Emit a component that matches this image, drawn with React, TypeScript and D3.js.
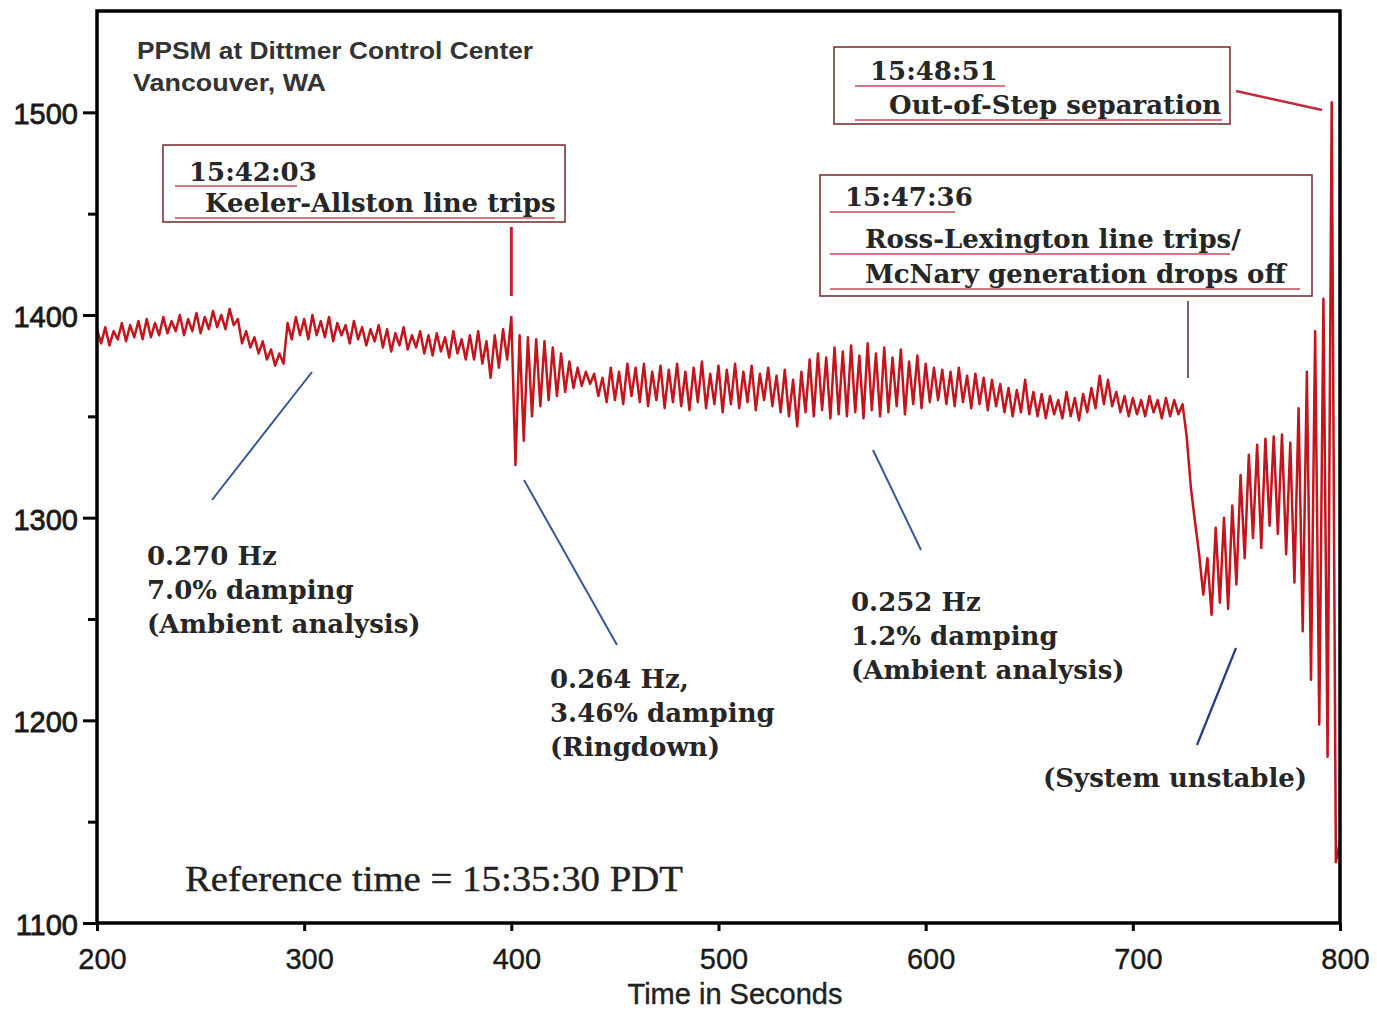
import React, { useEffect, useRef } from 'react';
import * as d3 from 'd3';

// PPSM trace, one reading every 2 s starting at 200 s (peaks / troughs)
const startTime = 200;
const sampleStep = 2;
const readings = [
  1393, 1386, 1394, 1385, 1392, 1388, 1396, 1387, 1395, 1389, // 200
  1397, 1388, 1398, 1389, 1396, 1390, 1399, 1391, 1397, 1392, // 220
  1400, 1390, 1398, 1392, 1401, 1391, 1399, 1393, 1402, 1394, // 240
  1400, 1393, 1403, 1395, 1398, 1386, 1392, 1384, 1389, 1381, // 260
  1387, 1378, 1383, 1375, 1381, 1376, 1396, 1388, 1399, 1390, // 280
  1398, 1388, 1400, 1390, 1397, 1389, 1399, 1387, 1396, 1390, // 300
  1395, 1386, 1397, 1388, 1394, 1385, 1393, 1387, 1395, 1384, // 320
  1393, 1382, 1391, 1385, 1394, 1383, 1390, 1384, 1392, 1381, // 340
  1390, 1380, 1391, 1382, 1389, 1379, 1392, 1381, 1388, 1378, // 360
  1390, 1378, 1392, 1376, 1387, 1369, 1390, 1374, 1393, 1378, // 380
  1399, 1326, 1390, 1338, 1389, 1350, 1388, 1355, 1387, 1358, // 400
  1384, 1360, 1381, 1362, 1377, 1364, 1374, 1365, 1372, 1366, // 420
  1371, 1360, 1369, 1357, 1374, 1358, 1372, 1356, 1376, 1360, // 440
  1374, 1357, 1376, 1355, 1372, 1358, 1375, 1354, 1373, 1357, // 460
  1376, 1355, 1372, 1353, 1374, 1357, 1377, 1354, 1371, 1356, // 480
  1375, 1352, 1373, 1356, 1376, 1354, 1372, 1357, 1375, 1353, // 500
  1371, 1358, 1374, 1355, 1370, 1352, 1373, 1350, 1368, 1345, // 520
  1372, 1352, 1378, 1350, 1381, 1353, 1379, 1349, 1384, 1351, // 540
  1382, 1350, 1385, 1352, 1380, 1349, 1386, 1353, 1381, 1350, // 560
  1384, 1352, 1379, 1355, 1383, 1351, 1377, 1356, 1380, 1354, // 580
  1376, 1357, 1374, 1358, 1373, 1356, 1372, 1355, 1374, 1357, // 600
  1370, 1354, 1371, 1356, 1369, 1353, 1368, 1355, 1366, 1352, // 620
  1364, 1350, 1363, 1352, 1368, 1351, 1362, 1350, 1361, 1349, // 640
  1360, 1351, 1358, 1349, 1362, 1350, 1359, 1348, 1361, 1352, // 660
  1364, 1354, 1370, 1356, 1368, 1355, 1362, 1352, 1360, 1350, // 680
  1359, 1351, 1358, 1350, 1360, 1352, 1358, 1349, 1359, 1350, // 700
  1358, 1351, 1356, 1340, 1315, 1298, 1282, 1262, 1280, 1252, // 720
  1295, 1258, 1300, 1255, 1306, 1267, 1321, 1280, 1331, 1290, // 740
  1336, 1285, 1339, 1296, 1340, 1292, 1341, 1282, 1337, 1268, // 760
  1354, 1244, 1372, 1220, 1392, 1198, 1408, 1182, 1505, 1130, // 780
  1140 // 800
];

const xTicks = [200, 300, 400, 500, 600, 700, 800];
const yTicks = [1100, 1200, 1300, 1400, 1500];
const yMinorTicks = [1150, 1250, 1350, 1450];

const siteLines = ['PPSM at Dittmer Control Center', 'Vancouver, WA'];
const keelerNote = ['15:42:03', 'Keeler-Allston line trips'];
const outOfStepNote = ['15:48:51', 'Out-of-Step separation'];
const rossNote = ['15:47:36', 'Ross-Lexington line trips/', 'McNary generation drops off'];
const ambientNote1 = ['0.270 Hz', '7.0% damping', '(Ambient analysis)'];
const ringdownNote = ['0.264 Hz,', '3.46% damping', '(Ringdown)'];
const ambientNote2 = ['0.252 Hz', '1.2% damping', '(Ambient analysis)'];
const unstableNote = '(System unstable)';
const referenceTime = 'Reference  time = 15:35:30  PDT';
const xTitle = 'Time in  Seconds';

const W = 1377;
const H = 1012;
const plot = { left: 97, right: 1340, top: 11, bottom: 923 };

const x = d3.scaleLinear().domain([200, 800]).range([plot.left, plot.right]);
const y = d3.scaleLinear().domain([1100, 1550]).range([plot.bottom, plot.top]);

const serif = '"DejaVu Serif", "Liberation Serif", serif';
const sans = '"Liberation Sans", Arial, sans-serif';
const boxColor = '#7a3434';
const underline = '#c9485a';
const pointer = '#33589c';

const noteStyle: React.CSSProperties = {
  fontFamily: serif,
  fontSize: 26,
  fontWeight: 'bold',
  fill: '#262626'
};

function Lines({ lines, left, top, gap }: { lines: string[]; left: number; top: number; gap: number }) {
  return (
    <g>
      {lines.map((s, i) => (
        <text key={i} x={left} y={top + i * gap} style={noteStyle}>{s}</text>
      ))}
    </g>
  );
}

export default function App() {
  const ref = useRef<SVGGElement>(null);

  useEffect(() => {
    const g = d3.select(ref.current);
    g.selectAll('*').remove();

    const data = readings.map((v, i) => ({ t: startTime + i * sampleStep, v }));
    const line = d3.line<{ t: number; v: number }>()
      .x(d => x(d.t))
      .y(d => y(d.v));

    g.append('path')
      .datum(data)
      .attr('fill', 'none')
      .attr('stroke', '#c4141c')
      .attr('stroke-width', 2.5)
      .attr('stroke-linejoin', 'round')
      .attr('d', line);

    // y axis
    const yAxis = g.append('g')
      .attr('transform', `translate(${plot.left},0)`)
      .call(d3.axisLeft(y).tickValues(yTicks).tickSize(14).tickPadding(5).tickFormat(d3.format('d')));
    yAxis.select('.domain').remove();
    yAxis.selectAll('line').attr('stroke', '#000').attr('stroke-width', 3);
    yAxis.selectAll('text')
      .attr('font-family', sans)
      .attr('font-size', 29)
      .attr('dy', '0.4em')
      .attr('fill', '#1a1a1a')
      .attr('stroke', '#1a1a1a')
      .attr('stroke-width', 0.8);

    const yMinor = g.append('g')
      .attr('transform', `translate(${plot.left},0)`)
      .call(d3.axisLeft(y).tickValues(yMinorTicks).tickSize(9).tickFormat(() => ''));
    yMinor.select('.domain').remove();
    yMinor.selectAll('line').attr('stroke', '#000').attr('stroke-width', 3);

    // x axis
    const xAxis = g.append('g')
      .attr('transform', `translate(0,${plot.bottom})`)
      .call(d3.axisBottom(x).tickValues(xTicks).tickSize(8).tickPadding(17).tickFormat(d3.format('d')));
    xAxis.select('.domain').remove();
    xAxis.selectAll('line').attr('stroke', '#000').attr('stroke-width', 3);
    xAxis.selectAll('text')
      .attr('font-family', sans)
      .attr('font-size', 29)
      .attr('dx', 5)
      .attr('fill', '#1a1a1a')
      .attr('stroke', '#1a1a1a')
      .attr('stroke-width', 0.4);

    // frame
    g.append('rect')
      .attr('x', plot.left)
      .attr('y', plot.top)
      .attr('width', plot.right - plot.left)
      .attr('height', plot.bottom - plot.top)
      .attr('fill', 'none')
      .attr('stroke', '#000')
      .attr('stroke-width', 3.5);
  }, []);

  return (
    <svg width={W} height={H} style={{ position: 'absolute', left: 0, top: 0, background: '#fff' }}>
      <g ref={ref} />

      {/* site label */}
      <text x={137} y={59} fontFamily={sans} fontSize={24} fontWeight="bold" fill="#333" textLength={396} lengthAdjust="spacingAndGlyphs">{siteLines[0]}</text>
      <text x={133} y={91} fontFamily={sans} fontSize={24} fontWeight="bold" fill="#333" textLength={193} lengthAdjust="spacingAndGlyphs">{siteLines[1]}</text>

      {/* 15:42:03 box */}
      <rect x={163} y={145} width={402} height={77} fill="none" stroke={boxColor} strokeWidth={1.6} />
      <line x1={175} x2={297} y1={186} y2={186} stroke={underline} strokeWidth={1.3} />
      <line x1={175} x2={555} y1={218} y2={218} stroke={underline} strokeWidth={1.3} />
      <Lines lines={[keelerNote[0]]} left={189} top={181} gap={0} />
      <Lines lines={[keelerNote[1]]} left={205} top={212} gap={0} />
      <line x1={x(400)} x2={x(400)} y1={227} y2={296} stroke="#cc1f30" strokeWidth={3} />

      {/* 15:48:51 box */}
      <rect x={834} y={47} width={396} height={77} fill="none" stroke={boxColor} strokeWidth={1.6} />
      <line x1={855} x2={1005} y1={86} y2={86} stroke={underline} strokeWidth={1.3} />
      <line x1={855} x2={1222} y1={120} y2={120} stroke={underline} strokeWidth={1.3} />
      <Lines lines={[outOfStepNote[0]]} left={870} top={80} gap={0} />
      <Lines lines={[outOfStepNote[1]]} left={889} top={114} gap={0} />
      <line x1={1236} y1={91} x2={1322} y2={110} stroke="#c42a3c" strokeWidth={2.5} />

      {/* 15:47:36 box */}
      <rect x={820} y={175} width={492} height={121} fill="none" stroke={boxColor} strokeWidth={1.6} />
      <line x1={830} x2={955} y1={212} y2={212} stroke={underline} strokeWidth={1.3} />
      <line x1={830} x2={1230} y1={254} y2={254} stroke={underline} strokeWidth={1.3} />
      <line x1={830} x2={1300} y1={289} y2={289} stroke={underline} strokeWidth={1.3} />
      <Lines lines={[rossNote[0]]} left={845} top={206} gap={0} />
      <Lines lines={rossNote.slice(1)} left={865} top={248} gap={35} />
      <line x1={1188} x2={1188} y1={301} y2={378} stroke="#5a3a3a" strokeWidth={1.6} />

      {/* pointers */}
      <line x1={212} y1={500} x2={312} y2={372} stroke={pointer} strokeWidth={2} />
      <line x1={524} y1={480} x2={617} y2={645} stroke={pointer} strokeWidth={2} />
      <line x1={873} y1={450} x2={921} y2={550} stroke={pointer} strokeWidth={2} />
      <line x1={1197} y1={745} x2={1236} y2={648} stroke="#1f3a8a" strokeWidth={2.2} />

      <Lines lines={ambientNote1} left={147} top={565} gap={34} />
      <Lines lines={ringdownNote} left={550} top={688} gap={34} />
      <Lines lines={ambientNote2} left={851} top={611} gap={34} />
      <Lines lines={[unstableNote]} left={1043} top={787} gap={0} />

      <text x={185} y={891} fontFamily='"Liberation Serif", serif' fontSize={36} fill="#222" stroke="#222" strokeWidth={0.4} textLength={498} lengthAdjust="spacingAndGlyphs">{referenceTime}</text>

      <text x={735} y={1004} textAnchor="middle" fontFamily={sans} fontSize={29} fill="#222" stroke="#222" strokeWidth={0.4}>{xTitle}</text>
    </svg>
  );
}
